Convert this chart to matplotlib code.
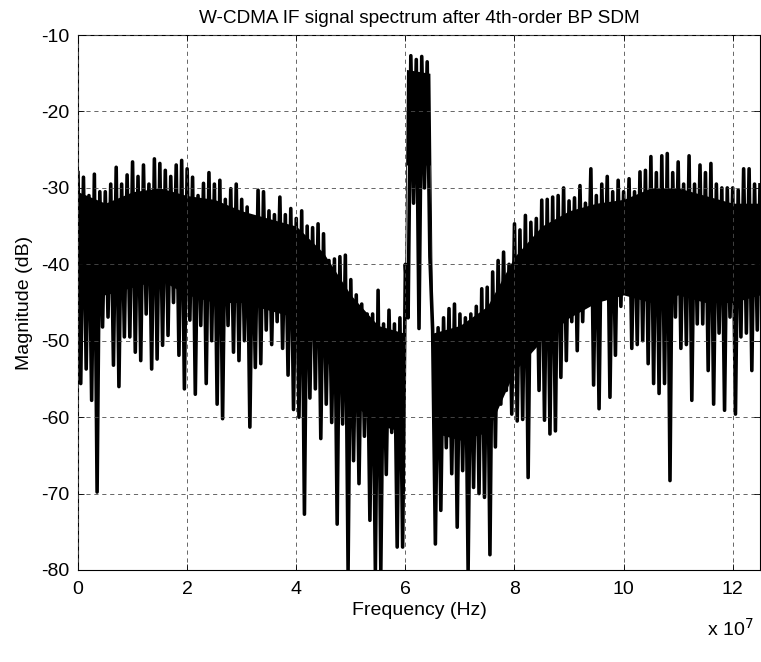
import numpy as np
import matplotlib
matplotlib.use("Agg")
import matplotlib.pyplot as plt
from matplotlib.ticker import FuncFormatter

plt.rcParams['font.family'] = ['Liberation Sans', 'DejaVu Sans']
plt.rcParams['axes.unicode_minus'] = False

TITLE = "W-CDMA IF signal spectrum after 4th-order BP SDM"
XLABEL = "Frequency (Hz)"
YLABEL = "Magnitude (dB)"

# spectrum, one value every 1 MHz (0 .. 125 MHz): local maxima
mag_hi = [
    -28, -28.6, -31, -28.2, -30.5, -30.5, -29.5, -27.3, -29.5, -28.3,
    -26.6, -28.5, -27, -29.5, -26.2, -26.8, -27.7, -28.5, -27, -26.4,
    -27.5, -28.6, -31, -29.4, -28, -29.5, -29, -31.5, -30.1, -29.5,
    -31.5, -32.5, -34, -30.3, -30.5, -33, -33.5, -31.2, -33.5, -32.7,
    -34, -33, -35, -35.2, -34.7, -36, -39.5, -39.3, -39, -38.8,
    -42, -44, -45.2, -46.5, -46.5, -43.4, -47.8, -46, -47.8, -47,
    -40, -12.7, -13.2, -12.8, -13.5, -48.6, -48.3, -47, -45.8, -45.2,
    -46.5, -47, -46.5, -45.5, -43.2, -43, -41, -39.5, -38.4, -40,
    -34.7, -35.5, -33.6, -34.5, -34, -31.6, -31.5, -31.2, -31, -30,
    -31.7, -31.3, -29.7, -32, -27.5, -31, -29.5, -28.5, -30.5, -29,
    -30.5, -28.8, -30.5, -27.9, -27.7, -25.9, -28, -25.8, -25.5, -28,
    -26.6, -29.5, -25.8, -29.5, -27, -28, -26.8, -29.5, -30, -30,
    -30, -30.3, -27.5, -27.5, -29.5, -29.6,
]

# local minima, half-way between the maxima (0.5 .. 124.5 MHz)
mag_lo = [
    -55.6, -53.7, -57.8, -69.8, -48.2, -46.9, -53.2, -56, -49.5, -49.5,
    -51.5, -52.6, -46.5, -53.7, -52.4, -50.6, -49.3, -45, -51.9, -56.3,
    -47.3, -57, -48, -55.6, -50, -58.3, -60.2, -48, -51.5, -52.6,
    -50, -61.3, -53.5, -53, -48.6, -50.5, -47.5, -51, -54.5, -59,
    -60, -72.7, -57.5, -56.3, -62.8, -58.3, -60.7, -74, -60.9, -80,
    -65.7, -68.7, -62.5, -73.5, -80, -80, -67.5, -62, -77, -77,
    -47, -32, -48.4, -30, -39, -76.6, -72.2, -64, -67.4, -74.4,
    -67, -80, -69.2, -70, -70.5, -78, -63.9, -58.3, -56.5, -59.6,
    -60.5, -60.3, -67.9, -50.8, -56.5, -60.4, -62.2, -61.8, -54.8, -52.6,
    -47.5, -51.3, -47.5, -44, -55.8, -58.9, -44.5, -57.4, -51.9, -45.5,
    -43, -51, -50.5, -50, -53, -55.6, -56.9, -55.6, -68.3, -46.9,
    -51, -50.5, -57.8, -47.8, -47.8, -53.9, -58.3, -49, -59.1, -46.9,
    -59.6, -49.5, -49, -53.9, -48.6,
]

# solid dense part of the trace (x 10^7 Hz)
core_f = [0, 0.5, 1, 1.5, 2, 2.5, 3, 3.5, 4, 4.5, 5, 5.5, 5.98, 6.02, 6.45, 6.5,
          7, 7.5, 8, 8.5, 9, 9.5, 10, 10.5, 11, 11.5, 12, 12.5]
core_top = [-30.5, -32, -30.5, -30, -31, -31.5, -33, -34, -35, -38.5, -44, -48, -49, -14.5, -15, -49,
            -48, -45.5, -39, -35, -33, -32, -31.5, -30, -30, -31, -32, -32]
core_bot = [-42, -44, -43, -42, -44, -45, -45, -46, -47, -52, -58, -61, -62, -27, -27, -62,
            -63, -62, -54, -50, -47, -45, -44, -45, -44, -45, -45, -44]

xticks = [0, 2e7, 4e7, 6e7, 8e7, 10e7, 12e7]
yticks = [-80, -70, -60, -50, -40, -30, -20, -10]

f_hi = np.arange(len(mag_hi)) * 1e6
f_lo = f_hi[:len(mag_lo)] + 0.5e6
freq = np.empty(len(mag_hi) + len(mag_lo))
mag = np.empty_like(freq)
freq[0::2] = f_hi
freq[1::2] = f_lo
mag[0::2] = mag_hi
mag[1::2] = mag_lo

fig = plt.figure(figsize=(7.61, 6.62), dpi=100)
ax = fig.add_axes([0.1025, 0.139, 0.8962, 0.808])

ax.fill_between(np.array(core_f) * 1e7, core_bot, core_top, color='black', lw=0)
ax.plot(freq, mag, color='black', lw=2.6)

ax.set_xlim(0, 1.25e8)
ax.set_ylim(-80, -10)
ax.set_xticks(xticks)
ax.set_yticks(yticks)
ax.xaxis.set_major_formatter(FuncFormatter(lambda v, p: f"{v / 1e7:g}"))

ax.set_axisbelow(False)
ax.grid(True, color='0.3', linestyle=(0, (5, 4.5)), lw=0.6)
ax.tick_params(direction='in', top=True, right=True, length=4, width=0.6,
               labelsize=14, pad=6)
ax.tick_params(axis='x', pad=8)
for s in ax.spines.values():
    s.set_linewidth(0.8)

ax.set_title(TITLE, fontsize=13.7, pad=9)
ax.set_xlabel(XLABEL, fontsize=14, labelpad=3)
ax.set_ylabel(YLABEL, fontsize=14, labelpad=6)
fig.text(0.99, 0.05, r"x 10$^7$", ha='right', va='center', fontsize=14)

fig.savefig("out.png", dpi=100)
